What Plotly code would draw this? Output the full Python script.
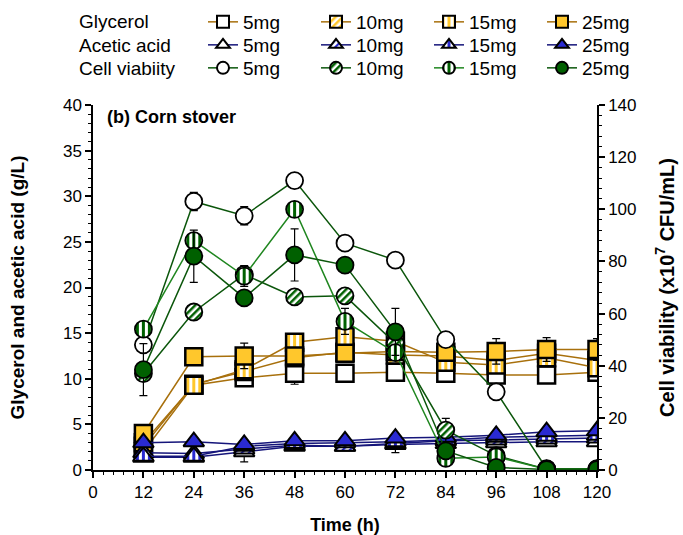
import plotly.graph_objects as go

# ---------------- data ----------------
time_h = [12, 24, 36, 48, 60, 72, 84, 96, 108, 120]

# Glycerol (g/L)
gly_5 = [2.0, 9.3, 10.1, 10.6, 10.6, 10.7, 10.6, 10.4, 10.4, 10.7]
gly_10 = [2.6, 9.4, 10.8, 12.3, 12.9, 12.6, 12.5, 12.0, 12.8, 12.0]
gly_15 = [3.0, 9.3, 11.0, 14.0, 14.6, 14.1, 11.8, 11.5, 12.3, 11.2]
gly_25 = [4.0, 12.4, 12.5, 12.5, 12.8, 13.0, 12.9, 13.0, 13.2, 13.2]
gly_25_err = [None, None, 1.4, None, None, None, None, 1.4, 1.3, 1.2]
gly_5_err = [None, None, None, 1.2, None, None, None, None, None, None]

# Acetic acid (g/L)
ace_5 = [1.4, 1.4, 2.0, 2.6, 2.6, 2.8, 2.9, 3.0, 3.1, 3.1]
ace_10 = [1.9, 1.8, 2.3, 2.7, 2.6, 2.9, 3.2, 3.3, 3.4, 3.5]
ace_15 = [1.5, 1.5, 2.6, 2.9, 3.0, 3.1, 3.3, 3.6, 3.7, 3.8]
ace_25 = [3.0, 3.1, 2.8, 3.2, 3.2, 3.5, 3.6, 3.8, 4.2, 4.3]
ace_5_err = [None, None, 1.1, None, None, 0.9, None, None, None, None]

# Cell viability (x10^7 CFU/mL)
cell_5 = [48, 103, 97.5, 111, 87, 80.5, 50, 30, 0.5, 0.5]
cell_10 = [37, 60.6, 75, 66.4, 66.8, 48.5, 15.3, 5.5, 0.3, 0.3]
cell_15 = [54, 88, 74.4, 100, 57, 45, 4.5, 5.0, 0.3, 0.3]
cell_25 = [38.5, 82, 66, 82.5, 78.6, 53, 7.3, 1.0, 0.2, 0.2]
cell_5_err = [None, 3.5, 3.5, None, None, None, None, None, None, None]
cell_10_err = [None, None, None, None, None, None, 4.5, None, None, None]
cell_15_err = [None, None, 4.0, None, 5.0, None, None, None, None, None]
cell_25_err = [10, 10, None, 10, None, 9, None, None, None, None]

doses = ["5mg", "10mg", "15mg", "25mg"]
row_labels = ["Glycerol", "Acetic acid", "Cell viabiity"]

# ---------------- style ----------------
FONT = "Liberation Sans, Arial, sans-serif"
BROWN = "#a8700c"
NAVY = "#15157a"
DKGREEN = "#0b560b"
GREEN = "#1f861f"
YELLOW = "#ffc72c"
BLUE = "#2a2ad2"
DGFILL = "#006000"

# placeholder fills that get replaced by stripe patterns after rendering
SQ10 = "rgb(255, 228, 150)"
SQ15 = "rgb(255, 214, 100)"
TR10 = "rgb(150, 150, 230)"
TR15 = "rgb(140, 140, 225)"
CI10 = "rgb(130, 170, 130)"
CI15 = "rgb(110, 150, 110)"

W, H = 683, 535
L, R, T, B = 93, 86, 105, 65


def px_x(px):
    return (px - L) / (W - L - R)


def px_y(py):
    return (H - B - py) / (H - T - B)


fig = go.Figure()


def err(arr):
    if arr is None:
        return None
    return dict(type="data", array=arr, visible=True, color="black",
                thickness=1.2, width=4)


def add(y, name, legend, line_color, symbol, fill, size, lw, yaxis="y", e=None):
    fig.add_trace(go.Scatter(
        x=time_h, y=y, name=name, legend=legend, yaxis=yaxis,
        mode="lines+markers",
        line=dict(color=line_color, width=1.5),
        marker=dict(symbol=symbol, size=size, color=fill,
                    line=dict(color="black", width=lw)),
        error_y=err(e),
        hoverinfo="skip",
    ))


# glycerol (squares)
add(gly_5, doses[0], "legend", BROWN, "square", "white", 17, 2.5, e=gly_5_err)
add(gly_10, doses[1], "legend", BROWN, "square", SQ10, 17, 2.5)
add(gly_15, doses[2], "legend", BROWN, "square", SQ15, 17, 2.5)
add(gly_25, doses[3], "legend", BROWN, "square", YELLOW, 17, 2.5, e=gly_25_err)

# acetic acid (triangles)
add(ace_5, doses[0], "legend2", NAVY, "triangle-up", "white", 18, 2, e=ace_5_err)
add(ace_10, doses[1], "legend2", NAVY, "triangle-up", TR10, 18, 2)
add(ace_15, doses[2], "legend2", NAVY, "triangle-up", TR15, 18, 2)
add(ace_25, doses[3], "legend2", NAVY, "triangle-up", BLUE, 18, 2)

# cell viability (circles, right axis)
add(cell_5, doses[0], "legend3", DKGREEN, "circle", "white", 17, 1.8, "y2", cell_5_err)
add(cell_10, doses[1], "legend3", DKGREEN, "circle", CI10, 17, 1.8, "y2", cell_10_err)
add(cell_15, doses[2], "legend3", GREEN, "circle", CI15, 17, 1.8, "y2", cell_15_err)
add(cell_25, doses[3], "legend3", DKGREEN, "circle", DGFILL, 17, 1.8, "y2", cell_25_err)

axis_common = dict(
    showline=True, linecolor="black", linewidth=1.5,
    ticks="outside", ticklen=6, tickwidth=1.5, tickcolor="black",
    showgrid=False, zeroline=False,
    tickfont=dict(family=FONT, size=17, color="black"),
)

fig.update_layout(
    width=W, height=H,
    margin=dict(l=L, r=R, t=T, b=B, autoexpand=False),
    paper_bgcolor="white", plot_bgcolor="white",
    font=dict(family=FONT, size=17, color="black"),
    xaxis=dict(range=[0, 120], tick0=0, dtick=12,
               minor=dict(dtick=2.4, ticklen=3, tickwidth=1.2, tickcolor="black", ticks="outside"),
               title=dict(text="Time (h)", standoff=17,
                          font=dict(family=FONT, size=18, weight="bold")),
               **axis_common),
    yaxis=dict(range=[0, 40], tick0=0, dtick=5,
               minor=dict(dtick=1, ticklen=3, tickwidth=1.2, tickcolor="black", ticks="outside"),
               title=dict(text="Glycerol and acetic acid (g/L)", standoff=33,
                          font=dict(family=FONT, size=19, weight="bold")),
               **axis_common),
    yaxis2=dict(range=[0, 140], tick0=0, dtick=20, overlaying="y", side="right",
                minor=dict(dtick=4, ticklen=3, tickwidth=1.2, tickcolor="black", ticks="outside"),
                title=dict(text="Cell viability (x10<sup>7</sup> CFU/mL)", standoff=24,
                           font=dict(family=FONT, size=20, weight="bold")),
                **axis_common),
    showlegend=True,
)

for key, row_y in zip(["legend", "legend2", "legend3"], [22, 45, 68]):
    fig.update_layout({key: dict(
        orientation="h", xref="container", yref="container",
        x=203 / W, y=1 - row_y / H, xanchor="left", yanchor="middle",
        entrywidth=68, entrywidthmode="pixels",
        itemsizing="constant", bgcolor="rgba(0,0,0,0)",
        font=dict(family=FONT, size=19, color="black"),
        tracegroupgap=0, itemclick=False, itemdoubleclick=False,
    )})

for label, row_y in zip(row_labels, [22, 45, 68]):
    fig.add_annotation(text=label, xref="paper", yref="paper",
                       x=px_x(77), y=px_y(row_y), xanchor="left", yanchor="middle",
                       showarrow=False, font=dict(family=FONT, size=19, color="black"))

fig.add_annotation(text="(b) Corn stover", xref="paper", yref="paper",
                   x=px_x(105), y=px_y(117), xanchor="left", yanchor="middle",
                   showarrow=False,
                   font=dict(family=FONT, size=18, color="black", weight="bold"))

# stripe fills for the hatched markers, thin lines in the legend keys
pattern_js = """
var gd = document.querySelector('.js-plotly-plot');
var NS = 'http://www.w3.org/2000/svg';
var svg = gd.querySelector('svg.main-svg');
var defs = svg.querySelector('defs');
if (!defs) { defs = document.createElementNS(NS, 'defs'); svg.insertBefore(defs, svg.firstChild); }
function pat(id, w, bg, fg, sw, angle, off) {
  var p = document.createElementNS(NS, 'pattern');
  p.setAttribute('id', id);
  p.setAttribute('patternUnits', 'userSpaceOnUse');
  p.setAttribute('x', off); p.setAttribute('y', 0);
  p.setAttribute('width', w); p.setAttribute('height', w);
  if (angle) p.setAttribute('patternTransform', 'rotate(' + angle + ')');
  var r = document.createElementNS(NS, 'rect');
  r.setAttribute('width', w); r.setAttribute('height', w); r.setAttribute('fill', bg);
  p.appendChild(r);
  var s = document.createElementNS(NS, 'rect');
  s.setAttribute('width', sw); s.setAttribute('height', w); s.setAttribute('fill', fg);
  p.appendChild(s);
  defs.appendChild(p);
}
pat('sq10', 5, '#ffffff', '%(yellow)s', 2.5, 45, 0);
pat('sq15', 6, '#ffffff', '%(yellow)s', 3, 0, -1.5);
pat('tr10', 5, '#ffffff', '%(blue)s', 2.2, 45, 0);
pat('tr15', 6, '#ffffff', '%(blue)s', 3, 0, -1.5);
pat('ci10', 5, '#ffffff', '%(green)s', 2.5, 45, 0);
pat('ci15', 6, '#ffffff', '%(green)s', 3, 0, -1.5);
var map = {
  '%(SQ10)s': 'sq10', '%(SQ15)s': 'sq15', '%(TR10)s': 'tr10',
  '%(TR15)s': 'tr15', '%(CI10)s': 'ci10', '%(CI15)s': 'ci15'
};
gd.querySelectorAll('path.point, path.scatterpts').forEach(function (el) {
  var f = (el.style.fill || '').replace(/\\s/g, '');
  if (map[f]) { el.style.fill = 'url(#' + map[f] + ')'; }
});
gd.querySelectorAll('.legendlines path.js-line').forEach(function (el) {
  el.style.strokeWidth = '1.5px';
});
""" % dict(yellow=YELLOW, blue=BLUE, green=DGFILL,
           SQ10=SQ10.replace(" ", ""), SQ15=SQ15.replace(" ", ""),
           TR10=TR10.replace(" ", ""), TR15=TR15.replace(" ", ""),
           CI10=CI10.replace(" ", ""), CI15=CI15.replace(" ", ""))

fig.write_html("out.html", post_script=pattern_js, config={"displayModeBar": False})
